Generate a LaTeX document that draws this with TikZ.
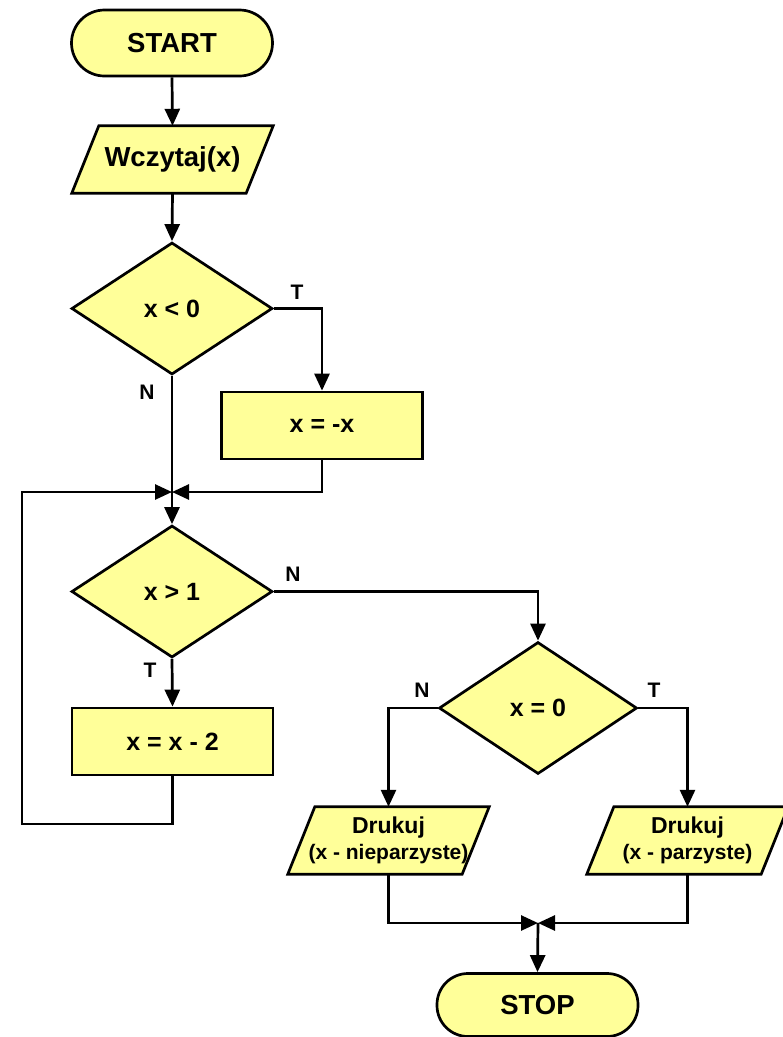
\documentclass[tikz,border=0pt]{standalone}
\usepackage{fontspec}
\setmainfont{Liberation Sans}
\usetikzlibrary{arrows.meta,shapes.geometric,backgrounds,calc}
\definecolor{boxfill}{RGB}{255,255,153}
\tikzset{
  base/.style={draw=black, line width=2.7pt, fill=boxfill, inner sep=0pt, font=\bfseries\fontsize{25}{30}\selectfont},
  terminal/.style={base, rectangle, rounded corners=33pt, minimum width=201pt, minimum height=66pt, font=\bfseries\fontsize{27.5}{32}\selectfont},
  iobox/.style={rectangle, inner sep=0pt, minimum width=174pt, minimum height=67pt},
  iofill/.style={draw=black, line width=2.7pt, fill=boxfill, line join=miter},
  decision/.style={base, diamond, minimum width=201pt, minimum height=132pt},
  process/.style={base, rectangle, minimum width=201pt, minimum height=67pt},
  arr/.style={line width=2.7pt, -{Triangle[length=17pt,width=15pt]}},
  ln/.style={line width=2.7pt},
  lbl/.style={font=\bfseries\fontsize{21}{24}\selectfont, inner sep=0pt}
}
\newcommand{\parallelo}[1]{%
  \draw[iofill] ($(#1.south west)+(-13.5,0)$) -- ($(#1.south east)+(-13.5,0)$) -- ($(#1.north east)+(13.5,0)$) -- ($(#1.north west)+(13.5,0)$) -- cycle;}
\begin{document}
\begin{tikzpicture}[x=1pt,y=-1pt]
\useasboundingbox (0,0) rectangle (783,1037);
\node[terminal] (start) at (172,43) {START};
\node[iobox, font=\bfseries\fontsize{27.5}{32}\selectfont] (wcz) at (172.5,159.5) {Wczytaj(x)};
\node[decision] (d1) at (172,308.5) {x < 0};
\node[process] (neg) at (322,425.5) {x = -x};
\coordinate (j1) at (172,492);
\node[decision] (d2) at (172,591.5) {x > 1};
\node[process] (dec) at (172.5,741.5) {x = x - 2};
\coordinate (lc) at (22,824);
\node[decision, minimum width=198pt] (d3) at (538,708) {x = 0};
\node[iobox, align=center, font=\bfseries\fontsize{23}{28}\selectfont] (p1) at (388.5,840.5) {Drukuj\\[-2pt]{\fontsize{21}{24}\selectfont (x - nieparzyste)}};
\node[iobox, align=center, font=\bfseries\fontsize{23}{28}\selectfont] (p2) at (687.5,840.5) {Drukuj\\[-2pt]{\fontsize{21}{24}\selectfont (x - parzyste)}};
\coordinate (j2) at (538,923);
\node[terminal, minimum height=63pt, rounded corners=31pt] (stop) at (537.5,1005) {STOP};

\begin{scope}[on background layer]
\parallelo{wcz}
\parallelo{p1}
\parallelo{p2}
\end{scope}

\draw[arr] (start.south) -- (wcz.north);
\draw[arr] (wcz.south) -- (d1.north);
\draw[arr] (d1.east) -| (neg.north);
\draw[ln] (d1.south) -- (j1);
\draw[arr] (neg.south) |- (j1);
\draw[arr] (dec.south) |- (lc) |- (j1);
\draw[arr] (j1) -- (d2.north);
\draw[arr] (d2.south) -- (dec.north);
\draw[arr] (d2.east) -| (d3.north);
\draw[arr] (d3.west) -| (p1.north);
\draw[arr] (d3.east) -| (p2.north);
\draw[arr] (p1.south) |- (j2);
\draw[arr] (p2.south) |- (j2);
\draw[arr] (j2) -- (stop.north);

\node[lbl] (t1) at (297,292) {T};
\node[lbl] (n1) at (147,392) {N};
\node[lbl] (n2) at (293,574) {N};
\node[lbl] (t2) at (150,670) {T};
\node[lbl] (n3) at (422,690) {N};
\node[lbl] (t3) at (654,690) {T};
\end{tikzpicture}
\end{document}
